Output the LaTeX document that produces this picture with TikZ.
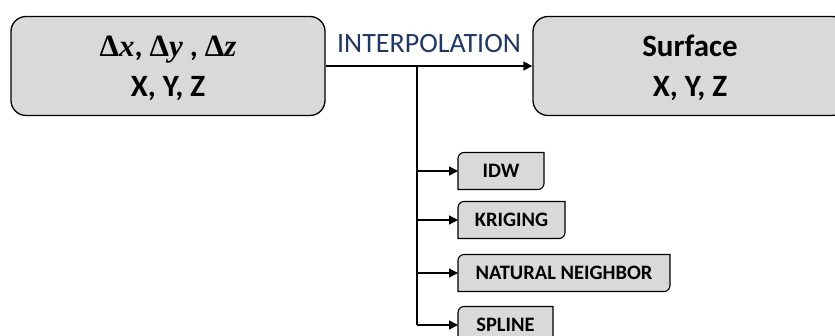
\documentclass[tikz,border=0pt]{standalone}
\usepackage{fontspec}
\setmainfont{Carlito}
\newfontfamily\deltafont{Liberation Serif}
\newcommand{\dvar}[1]{{\deltafont Δ\textit{#1}}}
\usetikzlibrary{positioning,arrows.meta,calc,backgrounds}
\definecolor{boxgray}{HTML}{D9D9D9}
\definecolor{labelblue}{HTML}{203864}

\begin{document}
\begin{tikzpicture}[x=1pt,y=1pt,
  bigbox/.style={draw,fill=boxgray,line width=1.3pt,rounded corners=15pt,minimum width=314pt,minimum height=99pt,align=center,text depth=-5pt,font=\fontsize{31}{40}\selectfont\bfseries},
  methodbox/.style={anchor=west,outer sep=0pt,inner xsep=2pt,minimum height=37pt,font=\fontsize{20.5}{22}\selectfont\bfseries},
  link/.style={line width=1.3pt,-{Triangle[length=9pt,width=9pt]}}]
\useasboundingbox (0,0) rectangle (835,-336);
\clip (0,0) rectangle (835,-336);
% input data and resulting surface
\node[bigbox] (data) at (168,-66) {\dvar{x}, \dvar{y} , \dvar{z}\\X, Y, Z};
\node[bigbox] (surface) at (690,-66) {Surface\\X, Y, Z};
\draw[link] (data.east) -- (surface.west) node[midway,above=11pt,inner sep=2pt,text=labelblue,font=\fontsize{28}{30}\selectfont] {INTERPOLATION};
% interpolation methods
\node[methodbox,minimum width=86pt] (idw) at (458,-171) {IDW};
\node[methodbox,minimum width=107pt] (kriging) at (458,-220) {KRIGING};
\node[methodbox,minimum width=212pt] (natural) at (458,-273) {NATURAL NEIGHBOR};
\node[methodbox,minimum width=95pt] (spline) at (458,-325) {SPLINE};
\begin{scope}[on background layer]
\foreach \n in {idw,kriging,natural,spline}
  \draw[fill=boxgray,line width=1.1pt] (\n.south west) -- ([yshift=-6pt]\n.north west) arc[start angle=180,end angle=90,radius=6pt] -- (\n.north east) -- ([yshift=6pt]\n.south east) arc[start angle=0,end angle=-90,radius=6pt] -- cycle;
\end{scope}
% branch line
\coordinate (split) at (417,-66);
\draw[line width=1.3pt] (split) -- (split |- spline.west);
\foreach \n in {idw,kriging,natural,spline}
  \draw[link] (split |- \n.west) -- (\n.west);
\end{tikzpicture}
\end{document}
